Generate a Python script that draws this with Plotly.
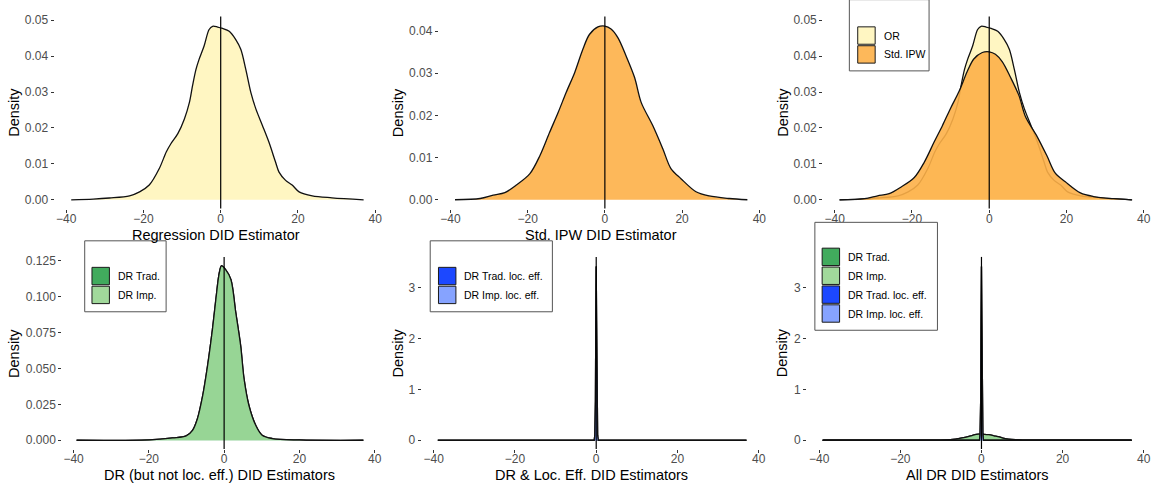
import plotly.graph_objects as go

W, H = 1156, 483

# ---- kernel density estimates of the DID estimators ----
or_x = [-38.7, -33.0, -28.8, -23.6, -21.0, -18.5, -15.9, -14.1, -12.9, -11.1, -9.4, -8.1,
        -7.3, -6.4, -5.6, -4.3, -3.0, -2.1, -0.8, 0.5, 2.2, 3.9, 5.2, 6.5, 7.8, 9.1,
        10.8, 12.5, 14.2, 15.1, 16.8, 18.5, 20.3, 23.7, 28.8, 37.0]
or_y = [0.0, 0.0002, 0.0005, 0.0011, 0.0022, 0.0041, 0.0087, 0.0133, 0.0156, 0.0184, 0.0225, 0.0271,
        0.0317, 0.0363, 0.0391, 0.0428, 0.0474, 0.0483, 0.0481, 0.0477, 0.0469, 0.0446, 0.0419, 0.0363, 0.0299, 0.0253,
        0.0207, 0.0160, 0.0105, 0.0077, 0.0054, 0.0041, 0.0022, 0.0011, 0.00055, 0.0]

ipw_x = [-38.8, -32.3, -28.9, -25.9, -22.9, -19.4, -16.8, -14.3, -12.1, -10.0, -7.8, -5.7,
         -4.0, -1.8, 0.0, 1.6, 3.4, 5.5, 7.7, 9.4, 12.4, 15.0, 17.1, 19.7, 23.6, 27.0, 32.2, 36.9]
ipw_y = [0.0, 0.0003, 0.0011, 0.0017, 0.0035, 0.0062, 0.0105, 0.0160, 0.0207, 0.0255, 0.0302, 0.0357,
         0.0392, 0.0410, 0.0412, 0.0405, 0.0384, 0.0341, 0.0290, 0.0231, 0.0176, 0.0121, 0.0074, 0.0050,
         0.0019, 0.0009, 0.0003, 0.0]

dr_x = [-39.2, -20.0, -13.7, -10.1, -8.4, -7.1, -5.7, -4.4, -3.1, -2.2, -1.3, -0.7, 0.4, 1.8,
        3.1, 4.4, 5.3, 6.6, 8.4, 10.1, 12.8, 20.0, 37.0]
dr_trad_y = [0.0, 0.0003, 0.0016, 0.0030, 0.0069, 0.0150, 0.0310, 0.0519, 0.0773, 0.0980, 0.1164, 0.1215,
             0.1188, 0.1119, 0.0888, 0.0657, 0.0427, 0.0242, 0.0104, 0.0035, 0.0012, 0.0002, 0.0]
dr_imp_y = [0.0, 0.0003, 0.0016, 0.0030, 0.0069, 0.0150, 0.0310, 0.0519, 0.0773, 0.0980, 0.1164, 0.1213,
            0.1188, 0.1119, 0.0888, 0.0657, 0.0427, 0.0242, 0.0104, 0.0035, 0.0012, 0.0002, 0.0]

loc_x = [-39.0, -0.5, -0.35, -0.2, -0.1, 0.0, 0.1, 0.2, 0.35, 0.5, 37.0]
loc_trad_y = [0.0, 0.0, 0.10, 0.78, 2.36, 3.43, 2.36, 0.78, 0.10, 0.0, 0.0]
loc_imp_y = [0.0, 0.0, 0.10, 0.77, 2.34, 3.41, 2.34, 0.77, 0.10, 0.0, 0.0]

x_ticks = [-40, -20, 0, 20, 40]

# series colours: (fill in plot, legend key)
COL = {
    "OR": ("rgba(255,246,194,1)", "#FFF6C2"),
    "Std. IPW": ("rgba(253,176,72,0.9)", "#FDB85A"),
    "DR Trad.": ("rgba(65,171,93,0.85)", "#41AB5D"),
    "DR Imp.": ("rgba(161,217,155,0.85)", "#A1D99B"),
    "DR Trad. loc. eff.": ("rgba(28,72,255,0.85)", "#1C48FF"),
    "DR Imp. loc. eff.": ("rgba(134,163,255,0.85)", "#86A3FF"),
}

FONT = "Liberation Sans, Arial, Helvetica, sans-serif"


def px_x(px):
    return px / W


def px_y(py):
    return 1 - py / H


# panel geometry in pixels and axis ranges
panels = [
    dict(xd=(54.8, 379.6), yd=(13.5, 206.9), yr=(-0.00246, 0.05105), dt=0.01, fmt=".2f", ytx=13.3,
         title="Regression DID Estimator", series=[("OR", or_x, or_y, "spline")]),
    dict(xd=(440.3, 765.1), yd=(13.5, 206.9), yr=(-0.0021, 0.04349), dt=0.01, fmt=".2f", ytx=399.0,
         title="Std. IPW DID Estimator", series=[("Std. IPW", ipw_x, ipw_y, "spline")]),
    dict(xd=(826.0, 1150.8), yd=(13.5, 206.9), yr=(-0.00246, 0.05105), dt=0.01, fmt=".2f", ytx=785.0,
         title="", series=[("OR", or_x, or_y, "spline"), ("Std. IPW", ipw_x, ipw_y, "spline")]),
    dict(xd=(62.5, 379.0), yd=(255.5, 448.8), yr=(-0.00609, 0.1276), dt=0.025, fmt=".3f", ytx=14.0,
         title="DR (but not loc. eff.) DID Estimators",
         series=[("DR Trad.", dr_x, dr_trad_y, "spline"), ("DR Imp.", dr_x, dr_imp_y, "spline")]),
    dict(xd=(423.0, 764.6), yd=(255.5, 448.8), yr=(-0.172, 3.61), dt=1, fmt="d", ytx=399.0,
         title="DR & Loc. Eff. DID Estimators",
         series=[("DR Trad. loc. eff.", loc_x, loc_trad_y, "linear"),
                 ("DR Imp. loc. eff.", loc_x, loc_imp_y, "linear")]),
    dict(xd=(809.8, 1151.0), yd=(255.5, 448.8), yr=(-0.172, 3.61), dt=1, fmt="d", ytx=785.0,
         title="All DR DID Estimators",
         series=[("DR Trad.", dr_x, dr_trad_y, "spline"), ("DR Imp.", dr_x, dr_imp_y, "spline"),
                 ("DR Trad. loc. eff.", loc_x, loc_trad_y, "linear"),
                 ("DR Imp. loc. eff.", loc_x, loc_imp_y, "linear")]),
]

fig = go.Figure()
layout = dict(width=W, height=H, margin=dict(l=0, r=0, t=0, b=0),
              paper_bgcolor="white", plot_bgcolor="white", showlegend=False,
              font=dict(family=FONT))
shapes, annotations = [], []

for i, p in enumerate(panels, start=1):
    sx = "" if i == 1 else str(i)
    xa, ya = "xaxis" + sx, "yaxis" + sx
    xr, yr = "x" + sx, "y" + sx
    for name, xs, ys, shape in p["series"]:
        fill = COL[name][0]
        fig.add_trace(go.Scatter(
            x=xs, y=ys, xaxis=xr, yaxis=yr, mode="lines", name=name,
            line=dict(color="#111111", width=1.3, shape=shape, smoothing=0.9),
            fill="tozeroy", fillcolor=fill, hoverinfo="skip"))
    common = dict(showgrid=False, zeroline=False, showline=False, ticks="outside",
                  ticklen=3, tickwidth=1, tickcolor="#333333",
                  tickfont=dict(size=12, color="#4D4D4D", family=FONT))
    layout[xa] = dict(domain=[px_x(p["xd"][0]), px_x(p["xd"][1])], range=[-43, 40.8],
                      anchor=yr, tickvals=x_ticks, ticklabelstandoff=-4, **common)
    layout[ya] = dict(domain=[px_y(p["yd"][1]), px_y(p["yd"][0])], range=list(p["yr"]),
                      anchor=xr, dtick=p["dt"], tick0=0, tickformat=p["fmt"], **common)
    # reference line at zero
    shapes.append(dict(type="line", xref=xr, yref=yr + " domain", x0=0, x1=0, y0=0, y1=1,
                       line=dict(color="black", width=1.2), layer="above"))
    # axis titles
    cx = (p["xd"][0] + p["xd"][1]) / 2
    cy = (p["yd"][0] + p["yd"][1]) / 2
    if p["title"]:
        annotations.append(dict(text=p["title"], xref="paper", yref="paper",
                                x=px_x(cx), y=px_y(p["yd"][1] + 26.5), showarrow=False,
                                xanchor="center", yanchor="middle",
                                font=dict(size=14.5, color="black", family=FONT)))
    annotations.append(dict(text="Density", xref="paper", yref="paper", textangle=-90,
                            x=px_x(p["ytx"]), y=px_y(cy), showarrow=False,
                            xanchor="center", yanchor="middle",
                            font=dict(size=14.5, color="black", family=FONT)))

# ggplot-style legend boxes
legends = [
    dict(box=(852.3, 932.3, -3.4, 68.3), keyx=860.7, key0=24.0, items=["OR", "Std. IPW"]),
    dict(box=(85.0, 166.7, 239.3, 310.7), keyx=92.3, key0=266.0, items=["DR Trad.", "DR Imp."]),
    dict(box=(431.7, 554.3, 239.3, 310.7), keyx=440.0, key0=266.0,
         items=["DR Trad. loc. eff.", "DR Imp. loc. eff."]),
    dict(box=(817.7, 940.7, 220.7, 329.3), keyx=825.0, key0=246.7,
         items=["DR Trad.", "DR Imp.", "DR Trad. loc. eff.", "DR Imp. loc. eff."]),
]
KEY, STEP = 17.5, 19.0
for lg in legends:
    x0, x1, y0, y1 = lg["box"]
    shapes.append(dict(type="rect", xref="paper", yref="paper", x0=px_x(x0), x1=px_x(x1),
                       y0=px_y(y1), y1=px_y(y0), fillcolor="white",
                       line=dict(color="#555555", width=1), layer="above"))
    for k, name in enumerate(lg["items"]):
        ky = lg["key0"] + k * STEP
        shapes.append(dict(type="rect", xref="paper", yref="paper",
                           x0=px_x(lg["keyx"]), x1=px_x(lg["keyx"] + KEY),
                           y0=px_y(ky + KEY), y1=px_y(ky), fillcolor=COL[name][1],
                           line=dict(color="#1a1a1a", width=1), layer="above"))
        annotations.append(dict(text=name, xref="paper", yref="paper",
                                x=px_x(lg["keyx"] + KEY + 6.5), y=px_y(ky + KEY / 2),
                                showarrow=False, xanchor="left", yanchor="middle",
                                font=dict(size=10.5, color="black", family=FONT)))

layout["shapes"] = shapes
layout["annotations"] = annotations
fig.update_layout(**layout)
fig.write_html("out.html")
